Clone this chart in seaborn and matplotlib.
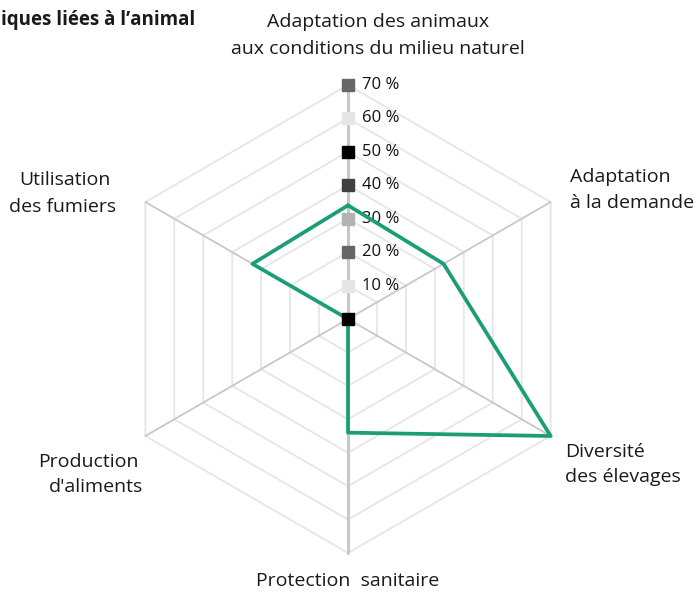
import numpy as np
import pandas as pd
import matplotlib
matplotlib.use("Agg")
import matplotlib.pyplot as plt
import seaborn as sns

# ---- data ----
categories = [
    "Adaptation des animaux\naux conditions du milieu naturel",
    "Adaptation\nà la demande",
    "Diversité\ndes élevages",
    "Protection  sanitaire",
    "Production\nd'aliments",
    "Utilisation\ndes fumiers",
]
values = [34, 33, 70, 34, 0, 33]
tick_values = [0, 10, 20, 30, 40, 50, 60, 70]
tick_labels = ["", "10 %", "20 %", "30 %", "40 %", "50 %", "60 %", "70 %"]
tick_colors = ["#000000", "#e6e6e6", "#666666", "#b3b3b3", "#404040", "#000000", "#e6e6e6", "#666666"]
title = "iques liées à l\u2019animal"

sns.set_theme(style="white")
plt.rcParams["font.family"] = ["Open Sans", "DejaVu Sans"]

W, H = 698, 593
fig = plt.figure(figsize=(W / 100, H / 100), dpi=100)
ax = fig.add_axes([0, 0, 1, 1])

cx, cy = 348, 319          # centre in pixels
ppu = 33.43 / 10           # pixels per percent
ax.set_xlim(-cx / ppu, (W - cx) / ppu)
ax.set_ylim(-(H - cy) / ppu, cy / ppu)
ax.set_axis_off()

n = len(categories)
angles = np.deg2rad(90 - 60 * np.arange(n))
rmax = tick_values[-1]

# hexagonal grid rings
for r in tick_values[1:]:
    a = np.append(angles, angles[0])
    ax.plot(r * np.cos(a), r * np.sin(a), color="#e6e6e6", lw=1.3, zorder=1)

# spokes
for i, a in enumerate(angles):
    lw = 2.2 if i in (0, 3) else 1.3
    ax.plot([0, rmax * np.cos(a)], [0, rmax * np.sin(a)], color="#c8c8c8", lw=lw, zorder=2)

# data polygon
vals = np.array(values + [values[0]], dtype=float)
ang = np.append(angles, angles[0])
df = pd.DataFrame({"x": vals * np.cos(ang), "y": vals * np.sin(ang)})
sns.lineplot(data=df, x="x", y="y", sort=False, estimator=None, color="#1b9e77",
             lw=2.7, ax=ax, zorder=4)
ax.set_xlabel("")
ax.set_ylabel("")

# radial ticks with square markers
for v, lab, c in zip(tick_values, tick_labels, tick_colors):
    ax.plot([0], [v], marker="s", ms=8.5, color=c, mec=c, zorder=5 if v == 0 else 3)
    if lab:
        ax.text(14 / ppu, v, lab, fontsize=12, va="center", ha="left", color="#111111", zorder=3)

FS = 14

def ftext(px, py, s, **kw):
    fig.text(px / W, 1 - py / H, s, fontsize=FS, color="#1a1a1a", va="baseline", **kw)

# axis labels (pixel positions of baselines)
ftext(378, 27, "Adaptation des animaux", ha="center")
ftext(378, 54, "aux conditions du milieu naturel", ha="center")
ftext(570, 182, "Adaptation", ha="left")
ftext(570, 208, "à la demande", ha="left")
ftext(565, 457, "Diversité", ha="left")
ftext(565, 482, "des élevages", ha="left")
ftext(348, 586, "Protection  sanitaire", ha="center")
ftext(139, 467, "Production", ha="right")
ftext(143, 492, "d'aliments", ha="right")
ftext(65, 185, "Utilisation", ha="center")
ftext(63, 212, "des fumiers", ha="center")

fig.text(1 / W, 1 - 25 / H, title, fontsize=13.5, fontweight="bold", ha="left",
         va="baseline", color="#1a1a1a")

fig.savefig("out.png", dpi=100)
